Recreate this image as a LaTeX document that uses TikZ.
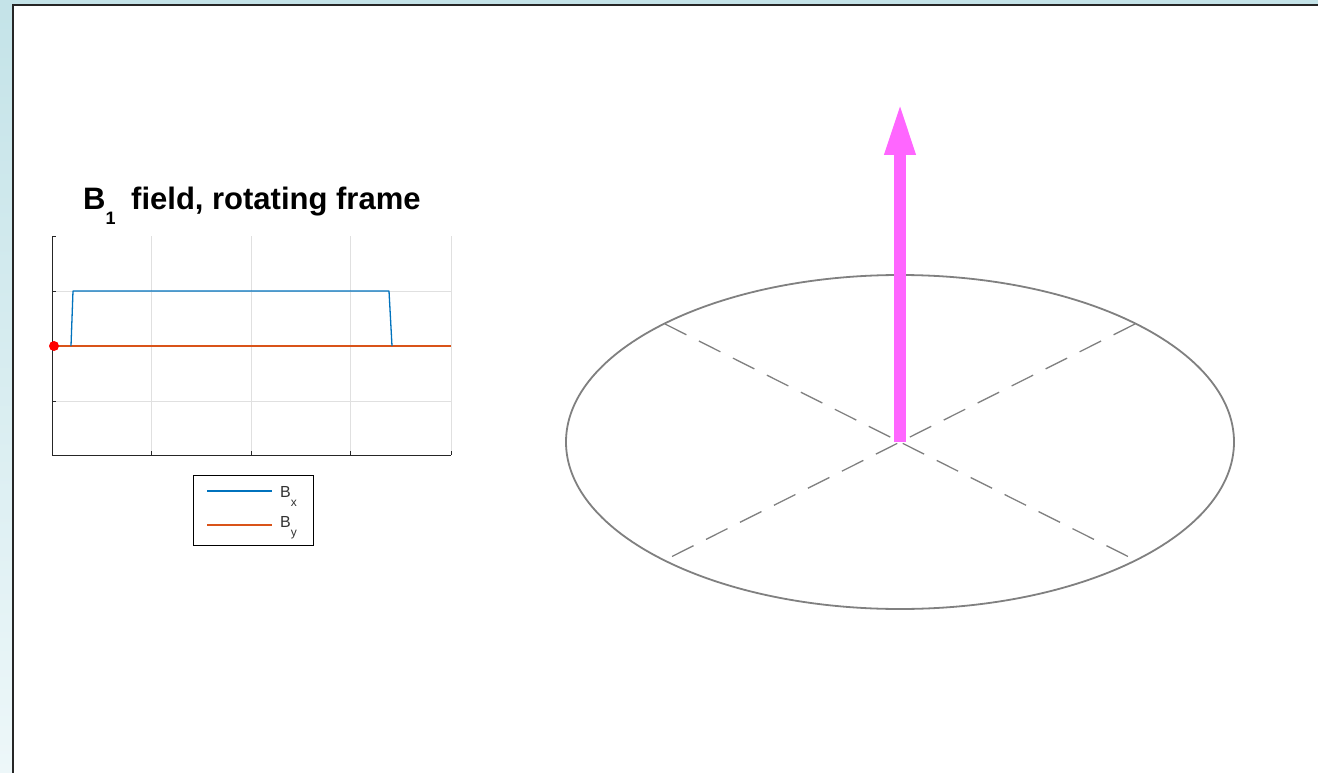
\documentclass[tikz,border=0pt]{standalone}
\usepackage{fontspec}
\setmainfont{Liberation Sans}
\usetikzlibrary{arrows.meta,positioning}
\definecolor{FigBack}{HTML}{C4E3E8}
\definecolor{FigBackLow}{HTML}{EDF7F9}
\definecolor{PlotBlue}{HTML}{0072BD}
\definecolor{PlotOrange}{HTML}{D95319}
\definecolor{PlotGrid}{HTML}{E0E0E0}
\definecolor{SphereGray}{HTML}{808080}
\definecolor{SpinPink}{HTML}{FF66FF}

\begin{document}
\begin{tikzpicture}[x=1pt,y=-1pt,>=Latex,
  gridline/.style={PlotGrid,line width=0.8pt},
  axisline/.style={black!85,line width=0.9pt},
  tracex/.style={PlotBlue,line width=1.3pt},
  tracey/.style={PlotOrange,line width=1.3pt},
  axisdash/.style={SphereGray,line width=1.3pt,dash pattern=on 24pt off 14pt},
  keytext/.style={font=\fontsize{16}{18}\selectfont,color=black!80,inner sep=0pt,anchor=base west}]
  \useasboundingbox (0,0) rectangle (1318,773);
  \shade[top color=FigBack,bottom color=FigBackLow] (0,0) rectangle (1318,773);
  \fill[white] (13,5) rectangle (1318,773);
  \draw[black!85,line width=2pt] (13,773) -- (13,5) -- (1318,5);

  % plot of the field
  \foreach \gx in {151,251,350,451} \draw[gridline] (\gx,236) -- (\gx,455);
  \foreach \gy in {291,346,401} \draw[gridline] (52,\gy) -- (451,\gy);
  \draw[axisline] (52,236) -- (52,455) -- (451,455);
  \foreach \gy in {236,291,346,401} \draw[axisline] (52,\gy) -- (56,\gy);
  \foreach \gx in {151,251,350,451} \draw[axisline] (\gx,455) -- (\gx,451);
  \draw[tracey] (52,346) -- (451,346);
  \draw[tracex,line join=round] (71,346) -- (73,291) -- (389,291) -- (392,346);
  \fill[red] (54,346) circle (5);
  \node[font=\fontsize{31}{33}\selectfont\bfseries,inner sep=0pt,anchor=base west,
    color=black] (title) at (83,209)
    {B\raisebox{-16pt}{\fontsize{18}{20}\selectfont 1}\hspace{7pt} field, rotating frame};

  % legend
  \node[draw,line width=0.9pt,minimum width=120pt,minimum height=70pt,inner sep=0pt]
    (key) at (253,510) {};
  \draw[tracex] (207,491) -- (272,491);
  \draw[tracey] (207,525) -- (272,525);
  \node[keytext] (keyx) at (280,497) {B\raisebox{-9pt}{\fontsize{12}{13}\selectfont x}};
  \node[keytext] (keyy) at (280,527) {B\raisebox{-9pt}{\fontsize{12}{13}\selectfont y}};

  % transverse plane and magnetisation
  \coordinate (origin) at (900,442);
  \coordinate (tip) at (900,102);
  \draw[SphereGray,line width=1.8pt] (origin) ellipse (334 and 167);
  \draw[axisdash] (665,324) -- (1135,560);
  \draw[axisdash] (1135,324) -- (665,560);
  \draw[SpinPink,line width=12pt,-{Triangle[length=53pt,width=28pt]}] (origin) -- (tip);
\end{tikzpicture}
\end{document}
